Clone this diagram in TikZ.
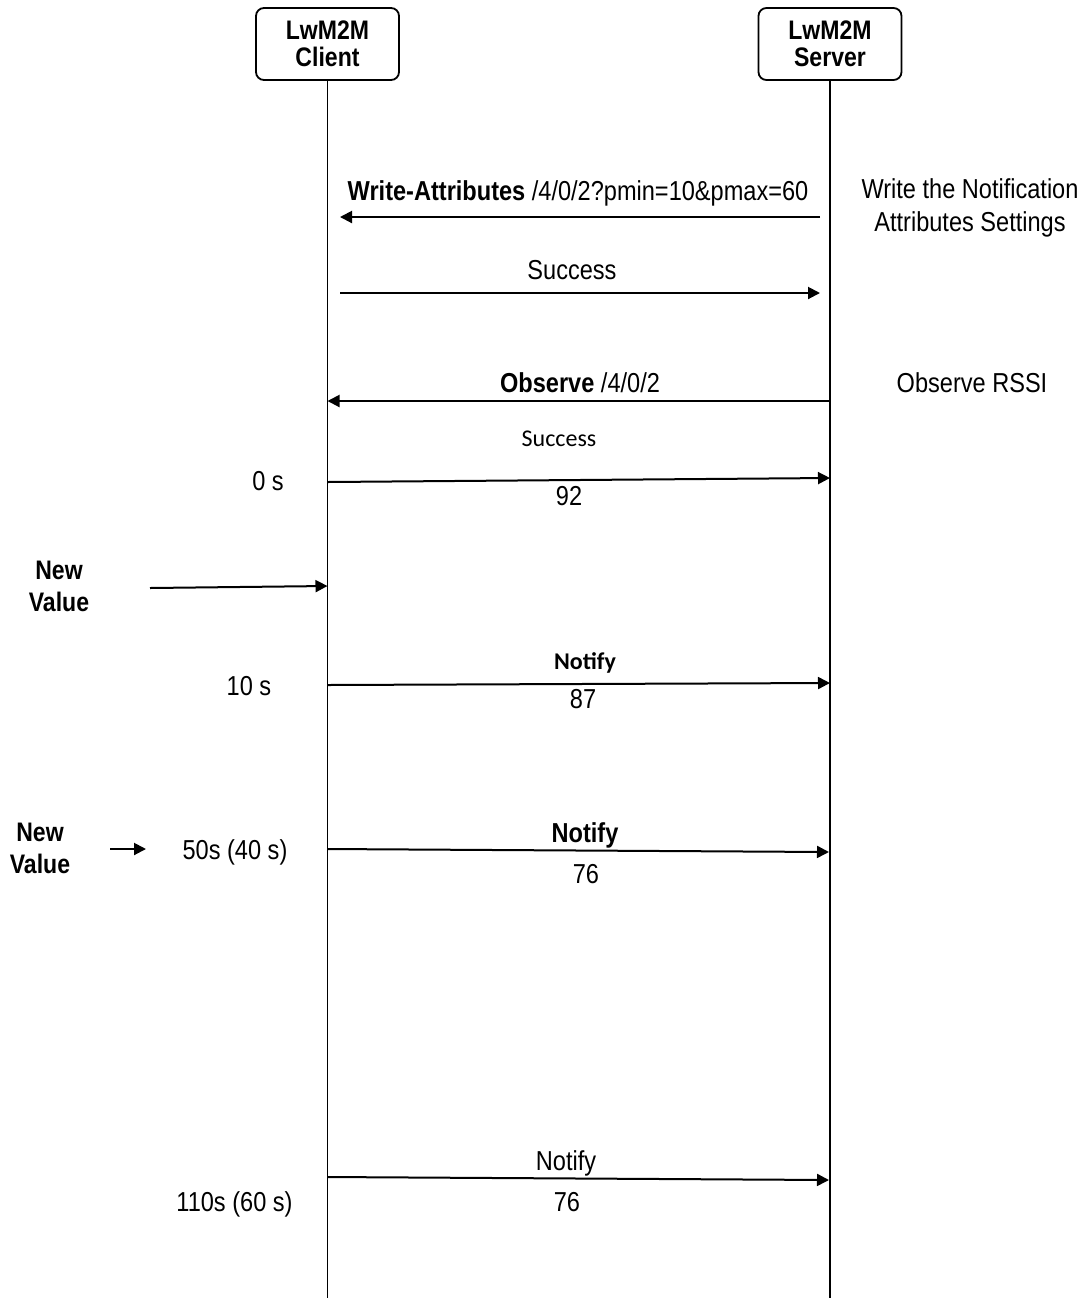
\documentclass[tikz,border=0pt]{standalone}
\usepackage{fontspec}
\setmainfont{Liberation Sans}[FakeStretch=0.86]
\newfontfamily\calfont{Carlito}
\usetikzlibrary{arrows.meta}
\definecolor{linecol}{RGB}{0,0,0}
\definecolor{textcol}{RGB}{0,0,0}

\begin{document}
\begin{tikzpicture}[
  % one unit = one pixel of the 1083 x 1298 sheet, y grows downwards
  x=0.5pt, y=-0.5pt,
  >={Triangle[length=6pt,width=6pt]},
  line cap=butt,line join=miter,
  actor/.style={draw=linecol,rounded corners=4pt,line width=0.9pt,
    minimum width=71.5pt,minimum height=36pt,inner sep=0pt,align=center,
    font=\bfseries\fontsize{13.4}{13.5}\selectfont,text=textcol},
  lifeline/.style={draw=linecol,line width=0.75pt},
  msg/.style={draw=linecol,line width=1pt,->},
  msglabel/.style={font=\fontsize{13.7}{16.5}\selectfont,text=textcol,
    inner sep=0pt,anchor=base,align=center},
  callabel/.style={msglabel,font=\calfont\fontsize{12}{14}\selectfont},
  eventlabel/.style={msglabel,anchor=center,
    font=\bfseries\fontsize{13.4}{16}\selectfont}
]
\useasboundingbox (0,0) rectangle (1083,1298);

% ---- actors and lifelines ------------------------------------------------
\node[actor] (client) at (327.5,44) {LwM2M\\Client};
\node[actor] (server) at (830,44)   {LwM2M\\Server};
\coordinate (clientend) at (327.5,1298);
\coordinate (serverend) at (830,1298);
\draw[lifeline] (client) -- (clientend);
\draw[lifeline] (server) -- (serverend);

% ---- write-attributes ----------------------------------------------------
\coordinate (wa-s) at (820,217);
\coordinate (wa-c) at (340,217);
\draw[msg] (wa-s) -- (wa-c);
\node[msglabel] (wa-lbl) at (578,200)
  {\textbf{Write-Attributes} /4/0/2?pmin=10\&pmax=60};
\node[msglabel,anchor=center] (wa-note) at (970,208)
  {Write the Notification\\Attributes Settings};

\coordinate (ok1-c) at (340,293);
\coordinate (ok1-s) at (820,293);
\draw[msg] (ok1-c) -- (ok1-s);
\node[msglabel] (ok1-lbl) at (572,279) {Success};

% ---- observe -------------------------------------------------------------
\coordinate (obs-s) at (830,401);
\coordinate (obs-c) at (327.5,401);
\draw[msg] (obs-s) -- (obs-c);
\node[msglabel] (obs-lbl) at (580,392) {\textbf{Observe} /4/0/2};
\node[msglabel] (obs-note) at (972,392) {Observe RSSI};

\coordinate (ok2-c) at (327.5,482);
\coordinate (ok2-s) at (830,478);
\draw[msg] (ok2-c) -- (ok2-s);
\node[callabel] (ok2-lbl) at (559,446) {Success};
\node[msglabel] (ok2-val) at (569,505) {92};
\node[msglabel] (t0) at (268,490) {0 s};

% ---- first new value -----------------------------------------------------
\node[eventlabel] (nv1) at (59,586) {New\\Value};
\coordinate (nv1-a) at (150,588);
\coordinate (nv1-c) at (327.5,586);
\draw[msg] (nv1-a) -- (nv1-c);

\coordinate (n1-c) at (327.5,685);
\coordinate (n1-s) at (830,683);
\draw[msg] (n1-c) -- (n1-s);
\node[callabel,font=\calfont\bfseries\fontsize{12}{14}\selectfont]
  (n1-lbl) at (585,669) {Notify};
\node[msglabel] (n1-val) at (583,708) {87};
\node[msglabel] (t10) at (249,695) {10 s};

% ---- second new value ----------------------------------------------------
\node[eventlabel] (nv2) at (40,848) {New\\Value};
\node[msglabel] (t50) at (235,859) {50s (40 s)};
\coordinate (nv2-a) at (110,849);
\coordinate (nv2-b) at (146,849);
\draw[msg] (nv2-a) -- (nv2-b);
\coordinate (n2-c) at (327.5,849);
\coordinate (n2-s) at (829,852);
\draw[msg] (n2-c) -- (n2-s);
\node[msglabel] (n2-lbl) at (585,842) {\textbf{Notify}};
\node[msglabel] (n2-val) at (586,883) {76};

% ---- pmax notification ---------------------------------------------------
\coordinate (n3-c) at (327.5,1177);
\coordinate (n3-s) at (829,1180);
\draw[msg] (n3-c) -- (n3-s);
\node[msglabel] (n3-lbl) at (566,1170) {Notify};
\node[msglabel] (n3-val) at (567,1211) {76};
\node[msglabel] (t110) at (234.5,1211) {110s (60 s)};

\end{tikzpicture}
\end{document}
